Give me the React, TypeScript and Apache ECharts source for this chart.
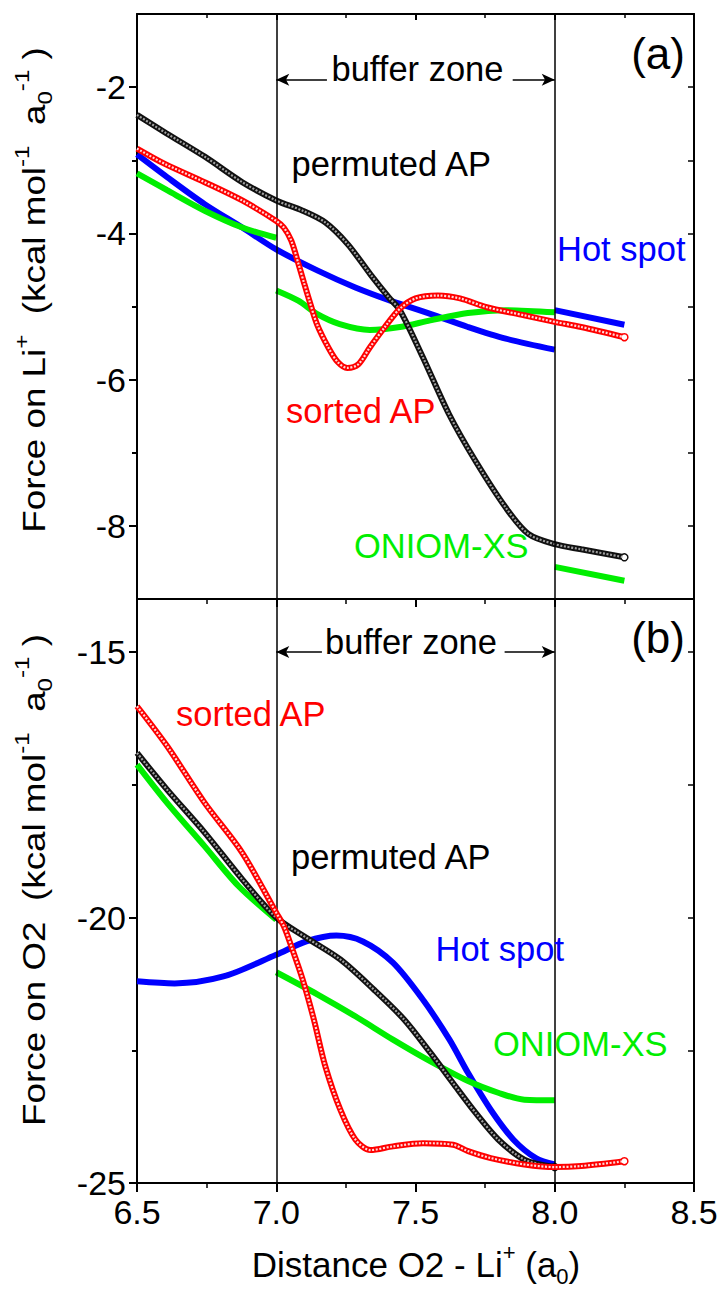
import React, { useEffect, useRef } from "react";
import * as echarts from "echarts";

// ---------- tick values ----------
const xTickValues = [6.5, 7.0, 7.5, 8.0, 8.5];
const topYLabels = [-2, -4, -6, -8];
const topYMinor = [-3, -5, -7];
const botYLabels = [-15, -20, -25];
const botYMinor = [-17.5, -22.5];
const bufferEdges = [7.0, 8.0];

// ---------- panel (a): Force on Li+ ----------
const aPermuted: number[][] = [
  [6.5, -2.38], [6.605, -2.63], [6.743, -2.95], [6.878, -3.3], [7.0, -3.55],
  [7.095, -3.69], [7.176, -3.85], [7.257, -4.15], [7.338, -4.56], [7.405, -4.88],
  [7.444, -5.05], [7.526, -5.69], [7.62, -6.47], [7.715, -7.11], [7.824, -7.75],
  [7.905, -8.11], [8.0, -8.25], [8.095, -8.32], [8.25, -8.43],
];
const aSorted: number[][] = [
  [6.5, -2.84], [6.6, -3.05], [6.743, -3.3], [6.878, -3.55], [7.0, -3.83],
  [7.027, -3.92], [7.054, -4.1], [7.08, -4.42], [7.1, -4.68], [7.119, -4.92],
  [7.146, -5.24], [7.187, -5.56], [7.221, -5.76], [7.255, -5.84], [7.295, -5.79],
  [7.336, -5.56], [7.39, -5.28], [7.444, -5.03], [7.5, -4.89], [7.58, -4.85],
  [7.66, -4.89], [7.756, -5.01], [7.89, -5.12], [8.0, -5.21], [8.095, -5.28],
  [8.25, -5.42],
];
const aHotSpot1: number[][] = [
  [6.5, -2.92], [6.608, -3.23], [6.743, -3.6], [6.878, -3.92], [7.0, -4.22],
  [7.149, -4.51], [7.284, -4.74], [7.417, -4.93], [7.553, -5.1], [7.688, -5.28],
  [7.824, -5.44], [8.0, -5.59],
];
const aHotSpot2: number[][] = [[8.0, -5.05], [8.25, -5.25]];
const aOniom1: number[][] = [
  [6.5, -3.18], [6.608, -3.41], [6.743, -3.69], [6.878, -3.92], [7.0, -4.06],
];
const aOniom2: number[][] = [
  [7.0, -4.78], [7.079, -4.92], [7.146, -5.1], [7.228, -5.24], [7.336, -5.32],
  [7.444, -5.28], [7.553, -5.19], [7.688, -5.09], [7.824, -5.05], [8.0, -5.08],
];
const aOniom3: number[][] = [[8.0, -8.56], [8.25, -8.75]];

// ---------- panel (b): Force on O2 ----------
const bPermuted: number[][] = [
  [6.5, -16.9], [6.608, -17.59], [6.743, -18.4], [6.878, -19.28], [7.0, -20.0],
  [7.108, -20.38], [7.23, -20.79], [7.351, -21.36], [7.459, -21.92], [7.554, -22.55],
  [7.635, -23.12], [7.716, -23.68], [7.797, -24.18], [7.891, -24.56], [8.0, -24.7],
];
const bSorted: number[][] = [
  [6.5, -16.02], [6.608, -16.77], [6.743, -17.84], [6.878, -18.78], [7.0, -19.91],
  [7.027, -20.16], [7.054, -20.54], [7.095, -21.17], [7.135, -21.92], [7.176, -22.8],
  [7.23, -23.62], [7.284, -24.18], [7.338, -24.38], [7.419, -24.31], [7.527, -24.25],
  [7.635, -24.28], [7.689, -24.4], [7.77, -24.53], [7.891, -24.65], [8.0, -24.7],
  [8.095, -24.68], [8.25, -24.59],
];
const bHotSpot: number[][] = [
  [6.5, -21.2], [6.635, -21.24], [6.81, -21.11], [7.0, -20.7], [7.108, -20.45],
  [7.216, -20.34], [7.311, -20.45], [7.419, -20.85], [7.527, -21.55], [7.622, -22.3],
  [7.689, -22.93], [7.77, -23.62], [7.851, -24.18], [7.932, -24.53], [8.0, -24.65],
];
const bOniom1: number[][] = [
  [6.5, -17.12], [6.608, -17.84], [6.743, -18.66], [6.865, -19.41], [7.0, -20.04],
];
const bOniom2: number[][] = [
  [7.0, -21.03], [7.149, -21.45], [7.284, -21.86], [7.419, -22.3], [7.554, -22.71],
  [7.689, -23.08], [7.797, -23.3], [7.891, -23.43], [8.0, -23.44],
];

// buffer-zone arrow rows (data coords)
const bufferArrowA = { y: -1.9, leftFrom: 7.182, rightFrom: 7.849 };
const bufferArrowB = { y: -15.0, leftFrom: 7.164, rightFrom: 7.82 };

const FONT = '"Liberation Sans", Arial, Helvetica, sans-serif';
const BLUE = "#0000ff";
const GREEN = "#00ee00";
const RED = "#ff0000";
const BLACK = "#111111";
const SMOOTH = 0.3;

function App() {
  const ref = useRef<HTMLDivElement>(null);
  useEffect(() => {
    document.body.style.margin = "0";
    if (!ref.current) return;
    const chart = echarts.init(ref.current, undefined, { renderer: "svg" });

    const axisLine = { show: true, onZero: false, lineStyle: { color: "#000", width: 2 } };

    const yAxesFor = (gridIndex: number, min: number, max: number, labels: number[], minors: number[]) => [
      {
        type: "value", gridIndex, min, max, position: "left",
        axisLine,
        axisTick: { show: true, customValues: labels, length: 8, lineStyle: { color: "#000", width: 2 } },
        axisLabel: { show: true, customValues: labels, fontSize: 34, color: "#000", fontFamily: FONT, margin: 11 },
        splitLine: { show: false },
      },
      {
        type: "value", gridIndex, min, max, position: "left",
        axisLine: { show: false },
        axisTick: { show: true, customValues: minors, length: 5, lineStyle: { color: "#000", width: 2 } },
        axisLabel: { show: false },
        splitLine: { show: false },
      },
      {
        type: "value", gridIndex, min, max, position: "right",
        axisLine,
        axisTick: { show: true, inside: true, customValues: [...labels, ...minors], length: 6, lineStyle: { color: "#000", width: 1.5 } },
        axisLabel: { show: false },
        splitLine: { show: false },
      },
    ];

    const xAxisFor = (gridIndex: number, position: string, showLabel: boolean, tickShow: boolean, inside: boolean, len: number, minorLen: number) => ({
      type: "value", gridIndex, position, min: 6.5, max: 8.5, interval: 0.5,
      axisLine,
      axisTick: { show: tickShow, inside, length: len, lineStyle: { color: "#000", width: 2 } },
      minorTick: { show: tickShow, splitNumber: 2, length: minorLen, lineStyle: { color: "#000", width: 1.5 } },
      axisLabel: {
        show: showLabel, fontSize: 34, color: "#000", fontFamily: FONT, margin: 12,
        customValues: xTickValues,
        formatter: (v: number) => v.toFixed(1),
      },
      splitLine: { show: false },
    });

    const solid = (data: number[][], color: string, xi: number, yi: number, z: number) => ({
      type: "line", xAxisIndex: xi, yAxisIndex: yi, data, smooth: SMOOTH,
      symbol: "none", silent: true, z,
      lineStyle: { color, width: 6 },
    });
    const chain = (data: number[][], color: string, xi: number, yi: number, z: number, inner: string) => {
      const last = data.length - 1;
      return [
        {
          type: "line", xAxisIndex: xi, yAxisIndex: yi, smooth: SMOOTH,
          silent: true, z, showSymbol: true, symbol: "none",
          data: data.map((p, i) => i === last
            ? { value: p, symbol: "circle", symbolSize: 7, itemStyle: { color: "#fff", borderColor: color, borderWidth: 1.5 } }
            : p),
          lineStyle: { color, width: 6 },
        },
        {
          type: "line", xAxisIndex: xi, yAxisIndex: yi, data, smooth: SMOOTH,
          symbol: "none", silent: true, z: z + 0.1,
          lineStyle: { color: inner, width: 2.2, type: [2, 1.6], opacity: 0.85 },
        },
      ];
    };

    const vLines = (xi: number, yi: number) => ({
      type: "line", xAxisIndex: xi, yAxisIndex: yi, data: [], silent: true,
      markLine: {
        silent: true, symbol: "none", animation: false,
        label: { show: false },
        lineStyle: { color: "#000", width: 1.5, type: "solid" },
        data: bufferEdges.map((x) => ({ xAxis: x })),
      },
    });
    const arrows = (xi: number, yi: number, a: { y: number; leftFrom: number; rightFrom: number }) => ({
      type: "line", xAxisIndex: xi, yAxisIndex: yi, data: [], silent: true,
      markLine: {
        silent: true, animation: false, symbol: ["none", "arrow"], symbolSize: [9, 13],
        label: { show: false },
        lineStyle: { color: "#000", width: 1.5, type: "solid" },
        itemStyle: { color: "#000" },
        data: [
          [{ coord: [a.leftFrom, a.y] }, { coord: [bufferEdges[0], a.y] }],
          [{ coord: [a.rightFrom, a.y] }, { coord: [bufferEdges[1], a.y] }],
        ],
      },
    });

    const txt = (text: string, x: number, y: number, color: string, fontSize: number, align = "left") => ({
      type: "text", x, y, silent: true, z: 100,
      style: { text, fill: color, fontSize, fontFamily: FONT, align, verticalAlign: "middle" },
    });

    const richY = {
      sup: { fontSize: 21, fontFamily: FONT, fill: "#000", verticalAlign: "top", lineHeight: 21 },
      sub: { fontSize: 21, fontFamily: FONT, fill: "#000", verticalAlign: "bottom", lineHeight: 21 },
    };
    const yTitle = (text: string, x: number, y: number) => ({
      type: "text", x, y, rotation: Math.PI / 2, scaleX: 1.15, silent: true, z: 100,
      style: { text, rich: richY, fill: "#000", fontSize: 32, fontFamily: FONT, align: "center", verticalAlign: "middle", lineHeight: 44 },
    });

    const option: any = {
      animation: false,
      backgroundColor: "#fff",
      grid: [
        { left: 137, top: 14, width: 557, height: 585 },
        { left: 137, top: 599, width: 557, height: 584 },
      ],
      xAxis: [
        xAxisFor(0, "bottom", false, true, false, 8, 5),
        xAxisFor(0, "top", false, true, true, 6, 4),
        xAxisFor(1, "bottom", true, true, false, 9, 5),
        xAxisFor(1, "top", false, false, false, 0, 0),
      ],
      yAxis: [
        ...yAxesFor(0, -9, -1, topYLabels, topYMinor),
        ...yAxesFor(1, -25, -14, botYLabels, botYMinor),
      ],
      series: [
        vLines(0, 0),
        vLines(2, 3),
        arrows(0, 0, bufferArrowA),
        arrows(2, 3, bufferArrowB),
        // panel (a)
        solid(aHotSpot1, BLUE, 0, 0, 2),
        solid(aHotSpot2, BLUE, 0, 0, 2),
        solid(aOniom1, GREEN, 0, 0, 3),
        solid(aOniom2, GREEN, 0, 0, 3),
        solid(aOniom3, GREEN, 0, 0, 3),
        ...chain(aPermuted, BLACK, 0, 0, 4, "#bbbbbb"),
        ...chain(aSorted, RED, 0, 0, 5, "#ffffff"),
        // panel (b)
        solid(bHotSpot, BLUE, 2, 3, 2),
        solid(bOniom1, GREEN, 2, 3, 3),
        solid(bOniom2, GREEN, 2, 3, 3),
        ...chain(bPermuted, BLACK, 2, 3, 4, "#bbbbbb"),
        ...chain(bSorted, RED, 2, 3, 5, "#ffffff"),
      ],
      graphic: [
        txt("(a)", 685, 53, "#000", 44, "right"),
        txt("buffer zone", 417.5, 69, "#000", 34.5, "center"),
        txt("permuted AP", 291.5, 164, "#000", 34.5),
        txt("Hot spot", 557, 249, BLUE, 34.5),
        txt("sorted AP", 286, 411, RED, 34.5),
        txt("ONIOM-XS", 354, 546, GREEN, 34.5),
        txt("(b)", 685, 637, "#000", 44, "right"),
        txt("buffer zone", 411, 642, "#000", 34.5, "center"),
        txt("sorted AP", 176, 714, RED, 34.5),
        txt("permuted AP", 291, 857, "#000", 34.5),
        txt("Hot spot", 435.5, 949, BLUE, 34.5),
        txt("ONIOM-XS", 493, 1044, GREEN, 34.5),
        yTitle("Force on Li{sup|+}  (kcal mol{sup|-1}  a{sub|0}{sup|-1} )", 34, 290),
        yTitle("Force on O2  (kcal mol{sup|-1}  a{sub|0}{sup|-1} )", 34, 880),
        {
          type: "text", x: 416, y: 1264, silent: true, z: 100,
          style: {
            text: "Distance O2 - Li{sup|+} (a{sub|0})",
            rich: {
              sup: { fontSize: 22, fontFamily: FONT, fill: "#000", verticalAlign: "top", lineHeight: 22 },
              sub: { fontSize: 22, fontFamily: FONT, fill: "#000", verticalAlign: "bottom", lineHeight: 22 },
            },
            fill: "#000", fontSize: 35, fontFamily: FONT, align: "center", verticalAlign: "middle", lineHeight: 46,
          },
        },
      ],
    };

    chart.setOption(option);
    return () => chart.dispose();
  }, []);

  return <div ref={ref} style={{ width: 723, height: 1296 }} />;
}

export default App;
